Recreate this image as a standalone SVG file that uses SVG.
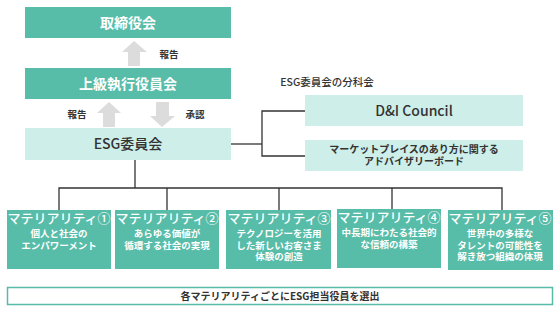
<svg xmlns="http://www.w3.org/2000/svg" width="560" height="313" viewBox="0 0 560 313">
<style>
text{font-family:"Noto Sans CJK JP","Noto Sans",sans-serif;text-anchor:middle}
.dark{fill:#57bca8}
.light{fill:#cdeee9}
.wt{fill:#fff;font-weight:bold;font-size:14px}
.dt{fill:#333;font-size:14px;font-weight:500}
.arr{fill:#dcdcdc}
.lbl{fill:#333;font-size:9.5px;font-weight:bold}
.con{stroke:#333;stroke-width:1.3;fill:none}
.mt{fill:#fff;font-size:13px;font-weight:500}
.ms{fill:#fff;font-size:9.5px;font-weight:bold}
.sub{fill:#333;font-size:10px;font-weight:bold}
</style>
<g id="connectors">
<polyline class="con" points="231,144 262,144"/>
<polyline class="con" points="305,111 262,111 262,156 305,156"/>
<line class="con" x1="135" y1="160" x2="135" y2="188"/>
<polyline class="con" points="59,210 59,188 502,188 502,210"/>
<line class="con" x1="167" y1="188" x2="167" y2="210"/>
<line class="con" x1="279" y1="188" x2="279" y2="210"/>
<line class="con" x1="392" y1="188" x2="392" y2="210"/>
</g>
<g id="arrows">
<polygon class="arr" points="134,41 147,52 140,52 140,66 128,66 128,52 122,52"/>
<polygon class="arr" points="109,102 121,113 115,113 115,127 103,127 103,113 97,113"/>
<polygon class="arr" points="162,127 175,116 169,116 169,102 156,102 156,116 150,116"/>
<text class="lbl" x="169" y="58">報告</text>
<text class="lbl" x="77" y="118">報告</text>
<text class="lbl" x="195" y="118">承認</text>
</g>
<g id="board">
<rect class="dark" x="25" y="7" width="206" height="31"/>
<text class="wt" x="128" y="28">取締役会</text>
</g>
<g id="senior">
<rect class="dark" x="25" y="68" width="206" height="31"/>
<text class="wt" x="128" y="89">上級執行役員会</text>
</g>
<g id="esg">
<rect class="light" x="25" y="128" width="206" height="32"/>
<text class="dt" x="128" y="149">ESG委員会</text>
</g>
<text class="sub" x="327" y="86" style="font-weight:500;font-size:10.5px">ESG委員会の分科会</text>
<g id="di">
<rect class="light" x="305" y="95" width="218" height="31"/>
<text class="dt" x="414" y="116">D&amp;I Council</text>
</g>
<g id="advisory">
<rect class="light" x="305" y="140" width="218" height="31"/>
<text class="sub" x="414" y="153">マーケットプレイスのあり方に関する</text>
<text class="sub" x="414" y="165">アドバイザリーボード</text>
</g>
<g id="m1">
<rect class="dark" x="7" y="210" width="104" height="59"/>
<text class="mt" x="59" y="223">マテリアリティ①</text>
<text class="ms" x="59" y="237">個人と社会の</text>
<text class="ms" x="59" y="248.5">エンパワーメント</text>
</g>
<g id="m2">
<rect class="dark" x="115" y="210" width="104" height="59"/>
<text class="mt" x="167" y="223">マテリアリティ②</text>
<text class="ms" x="167" y="237">あらゆる価値が</text>
<text class="ms" x="167" y="248.5">循環する社会の実現</text>
</g>
<g id="m3">
<rect class="dark" x="226" y="210" width="105" height="59"/>
<text class="mt" x="279" y="223">マテリアリティ③</text>
<text class="ms" x="279" y="237">テクノロジーを活用</text>
<text class="ms" x="279" y="248.5">した新しいお客さま</text>
<text class="ms" x="279" y="260">体験の創造</text>
</g>
<g id="m4">
<rect class="dark" x="337" y="209" width="104" height="59"/>
<text class="mt" x="389" y="222">マテリアリティ④</text>
<text class="ms" x="389" y="236">中長期にわたる社会的</text>
<text class="ms" x="389" y="247.5">な信頼の構築</text>
</g>
<g id="m5">
<rect class="dark" x="448" y="210" width="105" height="60"/>
<text class="mt" x="500" y="223">マテリアリティ⑤</text>
<text class="ms" x="500" y="237">世界中の多様な</text>
<text class="ms" x="500" y="248.5">タレントの可能性を</text>
<text class="ms" x="500" y="260">解き放つ組織の体現</text>
</g>
<g id="footer">
<rect x="7.5" y="287.5" width="545" height="17" fill="#fff" stroke="#57bca8" stroke-width="1.5"/>
<text class="sub" x="280" y="300">各マテリアリティごとにESG担当役員を選出</text>
</g>
</svg>
